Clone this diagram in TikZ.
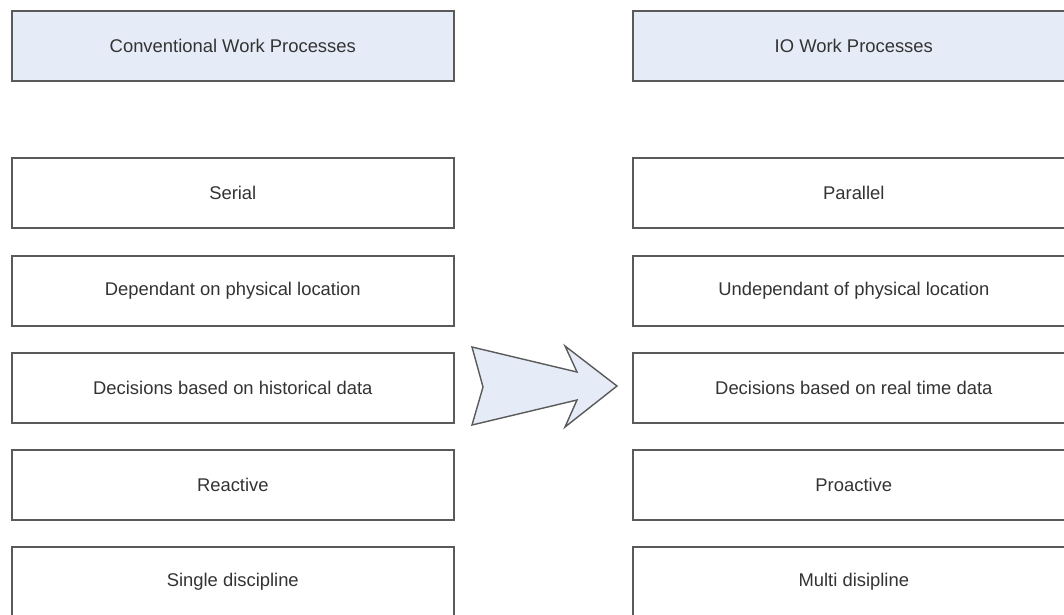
\documentclass[tikz,border=0pt]{standalone}
\usepackage{fontspec}
\setmainfont{Liberation Sans}
\definecolor{hdr}{HTML}{E6ECF7}
\definecolor{edge}{HTML}{5A5A5A}
\definecolor{txt}{HTML}{333333}
\tikzset{
  box/.style={draw=edge, line width=1.6pt, minimum width=442pt, minimum height=70pt,
    anchor=north west, inner sep=0pt, font=\fontsize{18.4}{22}\selectfont, text=txt},
  hdrbox/.style={box, fill=hdr},
  bigarrow/.style={draw=edge, line width=1.4pt, fill=hdr, line join=miter}
}
\begin{document}
\begin{tikzpicture}[x=1pt,y=-1pt]
\useasboundingbox (0,0) rectangle (1064,614);
\node[hdrbox] (lh) at (11,10) {Conventional Work Processes};
\node[hdrbox] (rh) at (632,10) {IO Work Processes};
\node[box] (l1) at (11,157) {Serial};
\node[box] (l2) at (11,255) {Dependant on physical location};
\node[box] (l3) at (11,352) {Decisions based on historical data};
\node[box] (l4) at (11,449) {Reactive};
\node[box] (l5) at (11,546) {Single discipline};
\node[box] (r1) at (632,157) {Parallel};
\node[box] (r2) at (632,255) {Undependant of physical location};
\node[box] (r3) at (632,352) {Decisions based on real time data};
\node[box] (r4) at (632,449) {Proactive};
\node[box] (r5) at (632,546) {Multi disipline};
\draw[bigarrow] (472,347) -- (577,372) -- (565,346) -- (617,386) -- (565,427) -- (577,400) -- (472,425) -- (483,387) -- cycle;
\end{tikzpicture}
\end{document}
